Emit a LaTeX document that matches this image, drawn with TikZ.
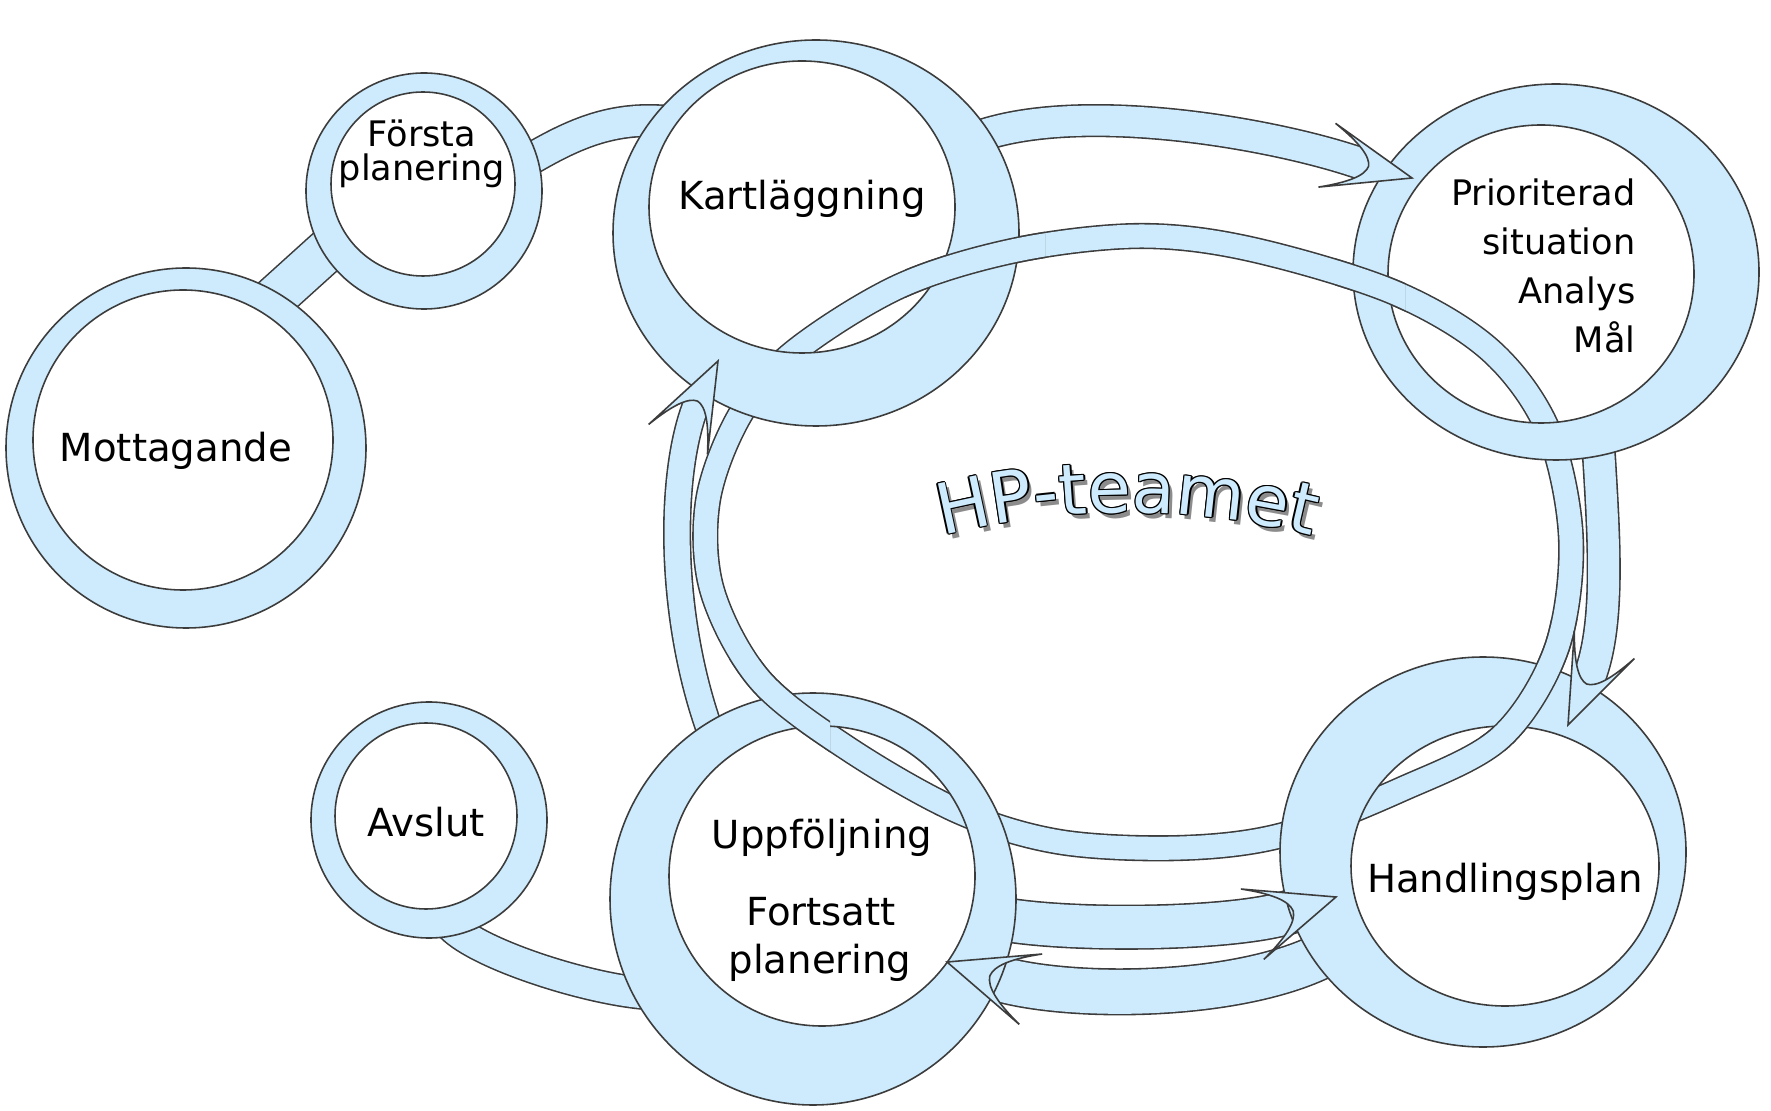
\documentclass[tikz,border=0pt]{standalone}
\usepackage{fontspec}
\setmainfont{DejaVu Sans}
\usetikzlibrary{calc, shapes.geometric, decorations.text}

\definecolor{hpblue}{RGB}{205,235,252}
\definecolor{hpline}{RGB}{60,60,60}

\tikzset{
  ring/.style={fill=hpblue, draw=hpline, line width=0.45pt},
  ringbox/.style={ellipse, inner sep=0pt, outer sep=0pt},
  band/.style={draw=hpline, line width=0.45pt, double=hpblue, double distance=#1},
  txt/.style={inner sep=0pt, font=\fontsize{11}{13}\selectfont},
  smalltxt/.style={inner sep=0pt, font=\fontsize{10}{12}\selectfont}
}

% swept arrow head: tip, screen angle, half width
\newcommand{\bandhead}[3]{%
  \filldraw[ring, shift={(#1)}, rotate={0-(#2)}] (0,0) -- (-88,-#3)
    .. controls (-60,{-0.62*#3}) and (-46,{-0.3*#3}) .. (-45,0)
    .. controls (-46,{0.3*#3}) and (-60,{0.62*#3}) .. (-88,#3) -- cycle;}

% the big loop round the team
\newcommand{\hploop}{plot[smooth cycle, tension=0.55] coordinates {(794,352) (900,286) (1017,250) (1140,236) (1250,249) (1393,292) (1490,350) (1548,430) (1571,540) (1556,650) (1500,738) (1400,790) (1283,835) (1180,848) (1060,842) (960,812) (850,750) (760,680) (712,590) (708,500) (740,415)}}

\newcommand{\hpfont}{\fontsize{20}{24}\selectfont}

\begin{document}
\begin{tikzpicture}[x=0.1mm, y=-0.1mm]
    \useasboundingbox (0,0) rectangle (1771,1111);

    % Ring nodes (outer border)
    \foreach \n/\cx/\cy/\rx/\ry in {mott/186/448/180/180, forsta/424/191/118/118,
        kart/816/233/203/193, prio/1556/272/203/188, hand/1483/852/203/195,
        uppf/813/899/203/206, avsl/429/820/118/118}
        \node[ringbox, minimum width=\rx*0.2mm, minimum height=\ry*0.2mm] (\n) at (\cx,\cy) {};

    % Arrow tips and band ends
    \coordinate (t1) at (1412,178);
    \coordinate (t2) at (1568,725);
    \coordinate (t3) at (1336,897);
    \coordinate (t4) at (947,962);
    \coordinate (t5) at (718,361);
    \coordinate (e1) at ($(t1)+(195:44)$);
    \coordinate (e2) at ($(t2)+(294.4:44)$);
    \coordinate (e3) at ($(t3)+(162:46)$);
    \coordinate (e4) at ($(t4)+(18:46)$);
    \coordinate (e5) at ($(t5)+(117:44)$);

    % Plain links (under the rings)
    \draw[band=4.2mm] ($(mott.center)!0.94!(mott.60)$) -- ($(forsta.center)!0.92!(forsta.211)$);
    \draw[band=3mm] ($(forsta.center)!0.9!(forsta.16)$) .. controls (570,136) and (610,116) .. ($(kart.center)!0.93!(kart.143)$);
    \draw[band=3mm] ($(avsl.center)!0.92!(avsl.-78)$) .. controls (480,955) and (590,990) .. ($(uppf.center)!0.93!(uppf.210)$);

    % Arrow bands
    \draw[band=3mm] ($(kart.center)!0.92!(kart.31)$) .. controls (1080,98) and (1285,135) .. (e1);
    \draw[band=3.1mm] ($(prio.center)!0.92!(prio.-76)$) .. controls (1604,540) and (1611,630) .. (e2);
    \draw[band=4.2mm] ($(uppf.center)!0.92!(uppf.-6)$) .. controls (1070,932) and (1237,930) .. (e3);
    \draw[band=4.4mm] ($(hand.center)!0.92!(hand.213)$) .. controls (1240,1000) and (1060,1000) .. (e4);
    \draw[band=2.5mm] ($(uppf.center)!0.92!(uppf.122)$) .. controls (668,620) and (668,470) .. (e5);

    % Loop, under
    \draw[band=2.3mm] \hploop;

    % Rings
    \foreach \n/\rx/\ry/\ix/\iy/\irx/\iry in {mott/180/180/183/440/150/150,
        forsta/118/118/423/184/92/92, kart/203/193/802/207/153/146,
        prio/203/188/1541/274/153/149, hand/203/195/1505/866/154/140,
        uppf/203/206/822/876/153/150, avsl/118/118/426/816/91/93}
        \filldraw[ring, even odd rule] (\n.center) ellipse [x radius=\rx, y radius=\ry]
            (\ix,\iy) ellipse [x radius=\irx, y radius=\iry];

    % Loop, where it passes over a ring
    \foreach \x/\y/\w/\h in {905/215/140/105, 1335/240/70/95, 1480/620/110/130, 720/660/110/100} {
        \begin{scope}
            \clip (\x,\y) rectangle ++(\w,\h);
            \draw[band=2.3mm] \hploop;
        \end{scope}
    }

    % Heads
    \bandhead{t1}{15}{33}
    \bandhead{t2}{114.4}{33}
    \bandhead{t3}{-18}{37}
    \bandhead{t4}{198}{37}
    \bandhead{t5}{-63}{33}

    % HP-teamet: shadow, outline, fill
    \foreach \dx/\dy/\c in {4/5/black!45, 1.3/0/black, -1.3/0/black, 0/1.3/black, 0/-1.3/black,
        0.9/0.9/black, 0.9/-0.9/black, -0.9/0.9/black, -0.9/-0.9/black, 0/0/hpblue}
        \path[shift={(\dx,\dy)}, decorate, decoration={text along path, text={|\hpfont|HP-teamet},
            text align=center, text color=\c}] (919,542) arc[start angle=-106, end angle=-74, radius=755];

    % Labels
    \node[txt, anchor=base] (mott-t) at (176,462) {Mottagande};
    \node[smalltxt, anchor=base] (forsta-t1) at (422,147) {Första};
    \node[smalltxt, anchor=base] (forsta-t2) at (422,181) {planering};
    \node[txt, anchor=base] (kart-t) at (802,210) {Kartläggning};
    \foreach \t [count=\i] in {Prioriterad, situation, Analys, Mål}
        \node[smalltxt, anchor=base east] (prio-t\i) at (1636,{206+49*(\i-1)}) {\t};
    \node[txt, anchor=base] (hand-t) at (1505,892) {Handlingsplan};
    \node[txt, anchor=base] (uppf-t1) at (822,848) {Uppföljning};
    \node[txt, anchor=base] (uppf-t2) at (821,925) {Fortsatt};
    \node[txt, anchor=base] (uppf-t3) at (820,973) {planering};
    \node[txt, anchor=base] (avsl-t) at (426,836) {Avslut};
\end{tikzpicture}
\end{document}
